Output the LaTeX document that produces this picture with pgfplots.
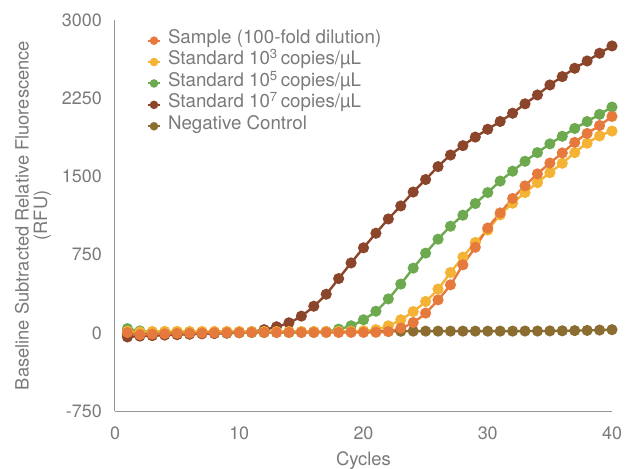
\documentclass[border=0pt]{standalone}
\usepackage{fontspec}
\setmainfont{TeX Gyre Heros}
\usepackage{pgfplots}
\pgfplotsset{compat=1.18}
\definecolor{cSample}{HTML}{E67A3C}
\definecolor{cYellow}{HTML}{F5B335}
\definecolor{cGreen}{HTML}{6CA94F}
\definecolor{cBrown}{HTML}{8B452A}
\definecolor{cNeg}{HTML}{8C6D31}
\definecolor{textgray}{RGB}{122,122,122}
\definecolor{axisgray}{RGB}{150,150,150}
\begin{document}
\begin{tikzpicture}
\useasboundingbox (-115bp,-58bp) rectangle (512bp,411bp);
\begin{axis}[
  at={(0,0)}, anchor=south west,
  width=497bp, height=391bp, scale only axis,
  xmin=0, xmax=40, ymin=-750, ymax=3000,
  xtick={0,10,20,30,40}, xticklabels={0,10,20,30,40},
  ytick={-750,0,750,1500,2250,3000}, yticklabels={-750,0,750,1500,2250,3000},
  axis x line*=bottom, axis y line*=left,
  axis line style={-, draw=axisgray, line width=1bp},
  major tick length=0pt, tick style={draw=none},
  every tick label/.append style={font=\fontsize{18}{20}\selectfont, text=textgray},
  xticklabel style={anchor=base, yshift=-28bp},
  yticklabel style={anchor=east, inner sep=0pt, xshift=-13bp},
  xlabel={Cycles},
  xlabel style={at={(axis description cs:0.5,0)}, anchor=base, yshift=-54bp, font=\fontsize{18.5}{20}\selectfont, text=textgray},
  ylabel={Baseline Subtracted Relative Fluorescence\\(RFU)},
  ylabel style={at={(axis description cs:-0.165,0.5)}, anchor=center, rotate=0, align=center, font=\fontsize{18.4}{18.5}\selectfont, text=textgray},
  legend style={draw=none, fill=none, inner sep=0pt, at={(axis description cs:0.064,0.975)}, anchor=north west,
    font=\fontsize{18.8}{20}\selectfont, text=textgray, row sep=0pt,
    nodes={inner sep=0pt, text height=13.5bp, text depth=7.9bp},
    /tikz/every odd column/.append style={column sep=7bp}},
  legend cell align=left,
  legend image code/.code={\draw[#1, mark=none, line width=2bp] (0bp,0bp) -- (12bp,0bp); \fill[#1, draw=none] (6bp,0bp) circle (4.3bp);},
  reverse legend,
  clip=false,
]
% Negative control
\addplot[color=cNeg, line width=2.4bp, mark=*, mark size=4.3bp, smooth] coordinates {
(1,-15)(2,-5)(3,0)(4,3)(5,5)(6,5)(7,5)(8,6)(9,6)(10,7)(11,8)(12,8)(13,9)(14,9)(15,10)(16,10)(17,11)(18,12)(19,12)(20,13)
(21,14)(22,15)(23,15)(24,16)(25,16)(26,16)(27,16)(28,16)(29,16)(30,16)(31,16)(32,16)(33,17)(34,17)(35,18)(36,19)(37,21)(38,23)(39,26)(40,30)};
% Standard 10^7
\addplot[color=cBrown, line width=2.4bp, mark=*, mark size=4.3bp, smooth] coordinates {
(1,-40)(2,-32)(3,-27)(4,-22)(5,-18)(6,-14)(7,-10)(8,-7)(9,-4)(10,0)(11,10)(12,30)(13,58)(14,96)(15,160)(16,255)(17,370)(18,520)(19,670)(20,815)
(21,955)(22,1092)(23,1217)(24,1350)(25,1470)(26,1594)(27,1705)(28,1795)(29,1877)(30,1952)(31,2027)(32,2106)(33,2196)(34,2281)(35,2377)(36,2457)(37,2537)(38,2607)(39,2681)(40,2751)};
% Standard 10^5
\addplot[color=cGreen, line width=2.4bp, mark=*, mark size=4.3bp, smooth] coordinates {
(1,40)(2,18)(3,8)(4,5)(5,4)(6,3)(7,2)(8,2)(9,2)(10,2)(11,2)(12,2)(13,3)(14,3)(15,4)(16,6)(17,12)(18,35)(19,67)(20,125)
(21,207)(22,325)(23,467)(24,620)(25,764)(26,898)(27,1022)(28,1128)(29,1240)(30,1345)(31,1455)(32,1550)(33,1645)(34,1728)(35,1812)(36,1885)(37,1960)(38,2026)(39,2095)(40,2165)};
% Standard 10^3
\addplot[color=cYellow, line width=2.4bp, mark=*, mark size=4.3bp, smooth] coordinates {
(1,15)(2,8)(3,12)(4,14)(5,14)(6,13)(7,13)(8,13)(9,13)(10,13)(11,12)(12,12)(13,12)(14,12)(15,12)(16,12)(17,12)(18,13)(19,15)(20,20)
(21,30)(22,67)(23,125)(24,204)(25,300)(26,419)(27,578)(28,726)(29,866)(30,985)(31,1131)(32,1243)(33,1345)(34,1440)(35,1536)(36,1626)(37,1728)(38,1818)(39,1888)(40,1935)};
% Sample
\addplot[color=cSample, line width=2.4bp, mark=*, mark size=4.3bp, smooth] coordinates {
(1,2)(2,-18)(3,-13)(4,-10)(5,-6)(6,-4)(7,-2)(8,0)(9,1)(10,2)(11,3)(12,3)(13,3)(14,3)(15,3)(16,3)(17,3)(18,3)(19,4)(20,4)
(21,5)(22,12)(23,45)(24,99)(25,189)(26,316)(27,460)(28,652)(29,820)(30,1005)(31,1150)(32,1288)(33,1409)(34,1524)(35,1628)(36,1725)(37,1826)(38,1912)(39,1988)(40,2075)};
\legend{Negative Control, Standard 10\textsuperscript{7}\,copies/µL, Standard 10\textsuperscript{5}\,copies/µL, Standard 10\textsuperscript{3}\,copies/µL, Sample (100-fold dilution)}
\end{axis}
\end{tikzpicture}
\end{document}
